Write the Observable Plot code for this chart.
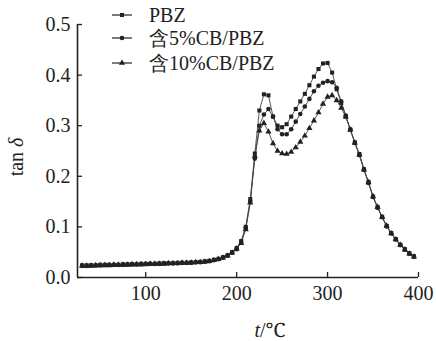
<!DOCTYPE html>
<html><head><meta charset="utf-8">
<script src="https://cdn.jsdelivr.net/npm/d3@7"></script>
<script src="https://cdn.jsdelivr.net/npm/@observablehq/plot@0.6"></script>
<style>body{margin:0;background:#fff} svg{display:block} svg text{font-family:"Liberation Serif","Times New Roman",Times,Tinos,"Noto Serif","DejaVu Serif","FreeSerif","Nimbus Roman",serif !important;}</style>
</head><body><div id="chart"></div>
<script>
const temps = [30,35,40,45,50,55,60,65,70,75,80,85,90,95,100,105,110,115,120,125,130,135,140,145,150,155,160,165,170,175,180,185,190,195,200,205,210,215,220,225,230,235,240,245,250,255,260,265,270,275,280,285,290,295,300,305,310,315,320,325,330,335,340,345,350,355,360,365,370,375,380,385,390,395];
const pbz = [0.024,0.024,0.024,0.024,0.025,0.025,0.025,0.025,0.025,0.026,0.026,0.026,0.026,0.027,0.027,0.027,0.027,0.028,0.028,0.028,0.028,0.029,0.029,0.029,0.030,0.030,0.031,0.032,0.033,0.035,0.037,0.040,0.044,0.050,0.058,0.072,0.100,0.155,0.245,0.330,0.362,0.360,0.318,0.300,0.297,0.303,0.318,0.333,0.348,0.363,0.380,0.397,0.412,0.423,0.424,0.405,0.372,0.345,0.318,0.292,0.267,0.244,0.214,0.189,0.160,0.139,0.120,0.102,0.088,0.076,0.065,0.056,0.048,0.042];
const cb5 = [0.023,0.023,0.024,0.024,0.024,0.025,0.025,0.025,0.025,0.025,0.026,0.026,0.026,0.026,0.027,0.027,0.027,0.027,0.028,0.028,0.028,0.028,0.029,0.029,0.029,0.030,0.030,0.031,0.032,0.034,0.036,0.039,0.043,0.049,0.056,0.070,0.098,0.150,0.235,0.300,0.322,0.333,0.318,0.293,0.283,0.283,0.293,0.308,0.323,0.338,0.353,0.368,0.379,0.385,0.388,0.386,0.375,0.348,0.320,0.293,0.266,0.242,0.213,0.187,0.159,0.138,0.119,0.101,0.087,0.075,0.064,0.055,0.047,0.041];
const cb10 = [0.023,0.023,0.023,0.024,0.024,0.024,0.024,0.025,0.025,0.025,0.025,0.026,0.026,0.026,0.026,0.027,0.027,0.027,0.027,0.028,0.028,0.028,0.029,0.029,0.029,0.030,0.030,0.031,0.032,0.034,0.036,0.039,0.043,0.049,0.057,0.068,0.095,0.148,0.240,0.290,0.305,0.288,0.265,0.250,0.245,0.244,0.248,0.257,0.268,0.280,0.295,0.310,0.326,0.343,0.357,0.360,0.350,0.335,0.318,0.292,0.266,0.242,0.213,0.188,0.160,0.139,0.119,0.102,0.087,0.075,0.064,0.055,0.047,0.041];
const seriesNames = ["PBZ", "含5%CB/PBZ", "含10%CB/PBZ"];
const seriesSymbols = ["square", "circle", "triangle"];
const xTicks = [100, 200, 300, 400];
const yTicks = [0, 0.1, 0.2, 0.3, 0.4, 0.5];
const xDomain = [25, 400];
const yDomain = [0, 0.5];

const seriesValues = [pbz, cb5, cb10];
const rows = [];
seriesNames.forEach((s, k) => temps.forEach((t, i) => rows.push({t, v: seriesValues[k][i], s})));

const ink = "#222";
const fontFamily = '"Liberation Serif", serif';

const svg = Plot.plot({
  width: 436, height: 341,
  marginLeft: 77, marginRight: 18, marginTop: 24, marginBottom: 64,
  style: {fontFamily, fontSize: "20px", color: ink, background: "#fff"},
  x: {domain: xDomain, label: null},
  y: {domain: yDomain, label: null},
  symbol: {domain: seriesNames, range: seriesSymbols},
  marks: [
    Plot.axisX({ticks: xTicks, tickSize: -5, tickPadding: 13, tickFormat: d => String(d), stroke: ink, strokeWidth: 1.3}),
    Plot.axisY({ticks: yTicks, tickSize: -5, tickPadding: 12, tickFormat: d3.format(".1f"), stroke: ink, strokeWidth: 1.3}),
    Plot.ruleY([yDomain[0]], {stroke: ink, strokeWidth: 1.6}),
    Plot.ruleX([xDomain[0]], {stroke: ink, strokeWidth: 1.6}),
    Plot.line(rows, {x: "t", y: "v", z: "s", stroke: "#444", strokeWidth: 0.9}),
    Plot.dot(rows, {x: "t", y: "v", symbol: "s", fill: ink, stroke: "none", r: 2.3})
  ]
});

const root = d3.select(svg);
const yl = root.append("text")
  .attr("transform", "translate(23,157) rotate(-90)")
  .attr("text-anchor", "middle")
  .style("font-size", "20px").attr("fill", ink);
yl.append("tspan").text("tan ");
yl.append("tspan").style("font-style", "italic").text("δ");

const xl = root.append("text")
  .attr("x", 270).attr("y", 337)
  .attr("text-anchor", "middle")
  .style("font-size", "20px").attr("fill", ink);
xl.append("tspan").style("font-style", "italic").text("t");
xl.append("tspan").text("/℃");

const legendY = [15, 38, 63];
const symMap = {square: d3.symbolSquare, circle: d3.symbolCircle, triangle: d3.symbolTriangle};
seriesNames.forEach((name, i) => {
  const g = root.append("g").attr("transform", `translate(0,${legendY[i]})`);
  g.append("line").attr("x1", 112).attr("x2", 132).attr("y1", 0).attr("y2", 0).attr("stroke", ink).attr("stroke-width", 1.2);
  g.append("path").attr("transform", "translate(122,0)").attr("d", d3.symbol(symMap[seriesSymbols[i]], 2.3 * 2.3 * Math.PI)()).attr("fill", ink);
  g.append("text").attr("x", 149).attr("y", 7).attr("text-anchor", "start").style("font-size", "20px").attr("fill", ink).text(name);
});

document.getElementById("chart").appendChild(svg);
</script>
</body></html>
